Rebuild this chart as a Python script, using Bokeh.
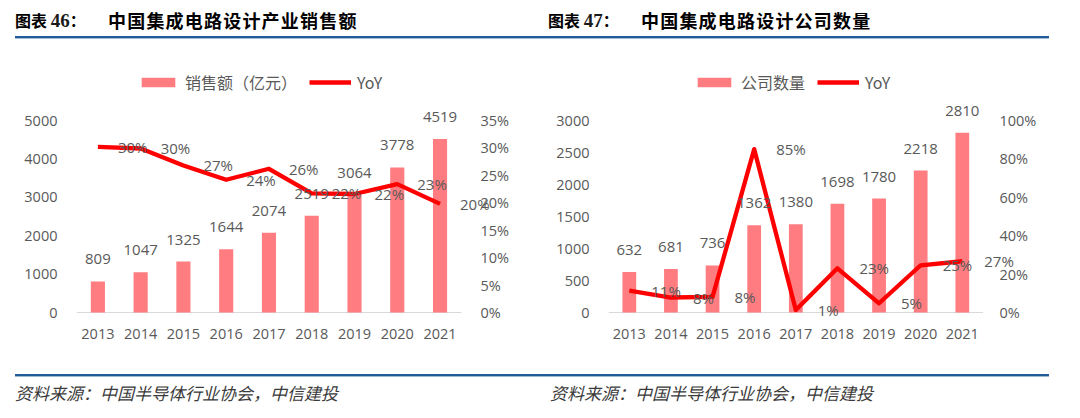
from bokeh.plotting import figure
from bokeh.models import (ColumnDataSource, LinearAxis, Range1d, Legend, LegendItem,
                          Div, FixedTicker, PrintfTickFormatter, LabelSet)
from bokeh.layouts import column, row
from bokeh.core.properties import value
from bokeh.embed import file_html
from bokeh.resources import INLINE

# ---------------- data ----------------
years = ["2013", "2014", "2015", "2016", "2017", "2018", "2019", "2020", "2021"]

sales = [809, 1047, 1325, 1644, 2074, 2519, 3064, 3778, 4519]
sales_yoy = [30.2, 29.9, 26.8, 24.2, 26.2, 21.7, 21.6, 23.4, 19.8]
sales_yoy_labels = ["30%", "30%", "27%", "24%", "26%", "22%", "22%", "23%", "20%"]
sales_left_ticks = [0, 1000, 2000, 3000, 4000, 5000]
sales_right_ticks = [0, 5, 10, 15, 20, 25, 30, 35]

firms = [632, 681, 736, 1362, 1380, 1698, 1780, 2218, 2810]
firms_yoy = [11.4, 7.8, 8.1, 85.1, 1.3, 23.0, 4.8, 24.6, 26.7]
firms_yoy_labels = ["11%", "8%", "8%", "85%", "1%", "23%", "5%", "25%", "27%"]
firms_left_ticks = [0, 500, 1000, 1500, 2000, 2500, 3000]
firms_right_ticks = [0, 20, 40, 60, 80, 100]

title_left = "中国集成电路设计产业销售额"
title_right = "中国集成电路设计公司数量"
legend_left = "销售额（亿元）"
legend_right = "公司数量"
source_note = "资料来源：中国半导体行业协会，中信建投"

BAR = "#FF7C80"
LINE = "#FF0000"
TXT = "#595959"
AXIS_GREY = "#D9D9D9"
NUM_FONT = "Open Sans"
CJK_FONT = "Noto Sans CJK SC"
TICK_SIZE = "14.5px"
LABEL_SIZE = "15px"

FIG_H = 318
B_TOP = 12        # frame top (figure px)
AXIS_TOP = 76     # pixel row of the top tick
AXIS_ZERO = 268   # pixel row of zero
FRAME_BOT = 292   # frame bottom (a little below zero so low labels are not clipped)


def style_axis(ax):
    ax.axis_line_color = None
    ax.major_tick_line_color = None
    ax.minor_tick_line_color = None
    ax.major_label_text_color = TXT
    ax.major_label_text_font = NUM_FONT
    ax.major_label_text_font_size = TICK_SIZE


def make_chart(vals, yoy, yoy_labels, lticks, rticks, leg_label,
               b_left, cat_px, extra, total_w, rlab_gap, lab_dx, leg_x):
    n = len(years)
    xs = list(range(n))
    src = ColumnDataSource(dict(x=xs, val=vals, val_txt=[str(v) for v in vals],
                                yoy=yoy, yoy_txt=yoy_labels))
    frame_w = round(cat_px * (n + extra))
    b_right = total_w - b_left - frame_w
    tick_px = AXIS_ZERO - AXIS_TOP
    top_k = (AXIS_ZERO - B_TOP) / tick_px
    bot_k = (FRAME_BOT - AXIS_ZERO) / tick_px
    p = figure(x_range=Range1d(-0.5, n - 0.5 + extra),
               y_range=Range1d(-lticks[-1] * bot_k, lticks[-1] * top_k),
               width=total_w, height=FIG_H,
               min_border_left=b_left, min_border_right=b_right,
               min_border_top=B_TOP, min_border_bottom=FIG_H - FRAME_BOT,
               output_backend="svg", toolbar_location=None)
    p.extra_y_ranges = {"pct": Range1d(-rticks[-1] * bot_k, rticks[-1] * top_k)}
    p.outline_line_color = None
    p.grid.grid_line_color = None

    # category axis base line, spanning the categories only
    p.line(x=[xs[0] - 0.5, xs[-1] + 0.5], y=[lticks[0], lticks[0]],
           line_color=AXIS_GREY, line_width=1)
    bars = p.vbar(x="x", top="val", width=0.33, source=src, fill_color=BAR, line_color=None)
    line = p.line(x="x", y="yoy", source=src, y_range_name="pct",
                  line_color=LINE, line_width=4.3, line_join="round")

    xa = p.xaxis[0]
    style_axis(xa)
    xa.ticker = FixedTicker(ticks=xs)
    xa.major_label_overrides = {i: y for i, y in zip(xs, years)}
    xa.major_label_standoff = 10 - (FRAME_BOT - AXIS_ZERO)

    ya = p.yaxis[0]
    style_axis(ya)
    ya.ticker = FixedTicker(ticks=lticks)
    ya.major_label_standoff = 13

    ra = LinearAxis(y_range_name="pct", ticker=FixedTicker(ticks=rticks),
                    formatter=PrintfTickFormatter(format="%d%%"))
    style_axis(ra)
    # labels sit left of the widened frame edge, where the reference axis is
    ra.major_label_standoff = rlab_gap - round(cat_px * extra)
    p.add_layout(ra, "right")

    p.add_layout(LabelSet(x="x", y="val", text="val_txt", source=src,
                          text_align="center", text_baseline="middle", y_offset=22,
                          text_font=value(NUM_FONT), text_font_size=value(LABEL_SIZE),
                          text_color=TXT))
    p.add_layout(LabelSet(x="x", y="yoy", text="yoy_txt", source=src, y_range_name="pct",
                          text_align="left", text_baseline="middle", x_offset=lab_dx,
                          text_font=value(NUM_FONT), text_font_size=value(LABEL_SIZE),
                          text_color=TXT))

    leg = Legend(items=[LegendItem(label=leg_label, renderers=[bars]),
                        LegendItem(label="YoY", renderers=[line])],
                 orientation="horizontal", location=(leg_x, FRAME_BOT - 50),
                 padding=0, margin=0, spacing=12, glyph_width=42, glyph_height=12,
                 label_standoff=6, border_line_color=None, background_fill_alpha=0,
                 label_text_font=CJK_FONT, label_text_font_size="16px",
                 label_text_color=TXT)
    p.add_layout(leg)
    return p


p1 = make_chart(sales, sales_yoy, sales_yoy_labels, sales_left_ticks, sales_right_ticks,
                legend_left, 76, 42.8, 0.75, 540, 13, 20, 61)
p2 = make_chart(firms, firms_yoy, firms_yoy_labels, firms_left_ticks, firms_right_ticks,
                legend_right, 68, 41.6, 0.85, 540, 10, 22, 85)

head_style = ("position:absolute;top:8px;font-family:'Noto Sans CJK SC';"
              "font-weight:bold;line-height:24px;color:#000;white-space:nowrap;")
num_style = "font-family:'Liberation Serif';font-size:19px;color:#1a1a1a;"
top_html = (
    "<div style='position:relative;width:1080px;height:44px;'>"
    f"<div style=\"{head_style}left:15px;font-size:16px;\">图表 <span style=\"{num_style}\">46</span>：</div>"
    f"<div style=\"{head_style}left:108px;font-size:18px;letter-spacing:1.2px;\">{title_left}</div>"
    f"<div style=\"{head_style}left:548px;font-size:16px;\">图表 <span style=\"{num_style}\">47</span>：</div>"
    f"<div style=\"{head_style}left:641px;font-size:18px;letter-spacing:1.2px;\">{title_right}</div>"
    "<div style='position:absolute;left:15px;top:36px;width:1034px;height:3px;"
    "background:#215C96;border-bottom:1px solid #9DBAD6;'></div>"
    "</div>"
)
foot_style = ("position:absolute;top:20px;font-family:'Noto Sans CJK SC';font-size:17px;"
              "font-style:italic;line-height:22px;color:#3a3a3a;white-space:nowrap;")
foot_html = (
    "<div style='position:relative;width:1080px;height:50px;'>"
    "<div style='position:absolute;left:15px;top:12px;width:1034px;height:3px;"
    "background:#215C96;border-bottom:1px solid #9DBAD6;'></div>"
    f"<div style=\"{foot_style}left:15px;\">{source_note}</div>"
    f"<div style=\"{foot_style}left:550px;\">{source_note}</div>"
    "</div>"
)
top_div = Div(text=top_html, width=1080, height=44, margin=0)
foot_div = Div(text=foot_html, width=1080, height=50, margin=0)

layout = column(top_div, row(p1, p2, spacing=0), foot_div, spacing=0)

open("out.html", "w").write(file_html(layout, INLINE))
